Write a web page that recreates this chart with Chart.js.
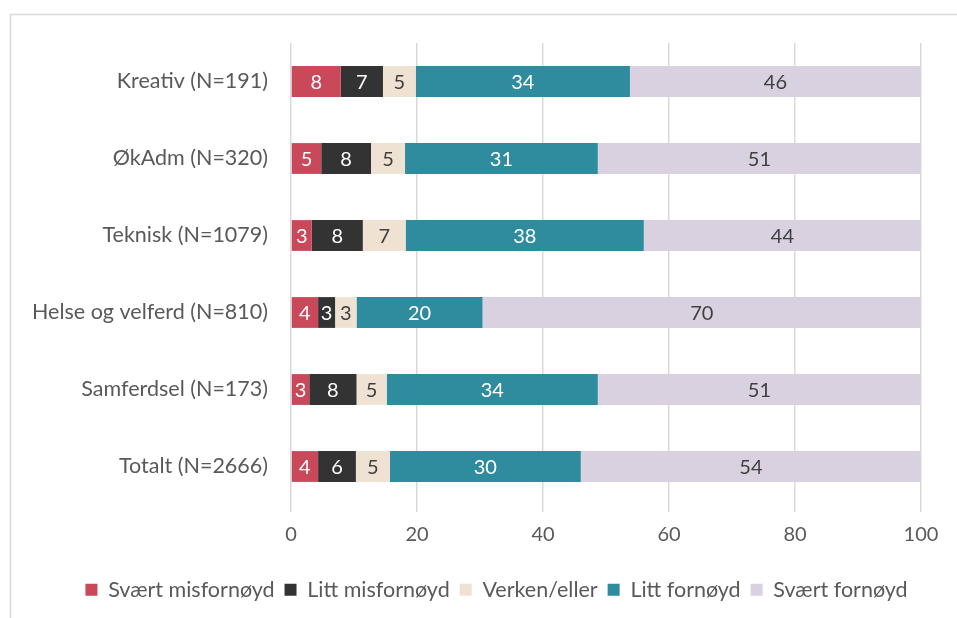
<!DOCTYPE html>
<html>
<head>
<meta charset="utf-8">
<script src="https://cdn.jsdelivr.net/npm/chart.js@4/dist/chart.umd.min.js"></script>
<style>
  html, body { margin: 0; padding: 0; background: #ffffff; }
  #wrap { width: 957px; height: 618px; position: relative; }
</style>
</head>
<body>
<div id="wrap"><canvas id="c" width="957" height="618"></canvas></div>
<script>
const categories = ["Kreativ (N=191)", "ØkAdm (N=320)", "Teknisk (N=1079)", "Helse og velferd (N=810)", "Samferdsel (N=173)", "Totalt (N=2666)"];
const seriesNames = ["Svært misfornøyd", "Litt misfornøyd", "Verken/eller", "Litt fornøyd", "Svært fornøyd"];
const sværtMisfornøyd = [7.9, 4.8, 3.3, 4.3, 2.9, 4.3];
const littMisfornøyd  = [6.7, 7.9, 8.1, 2.7, 7.5, 6.0];
const verkenEller     = [5.2, 5.4, 6.8, 3.4, 4.8, 5.4];
const littFornøyd     = [34.0, 30.6, 37.8, 20.0, 33.5, 30.3];
const sværtFornøyd    = [46.2, 51.3, 44.0, 69.6, 51.3, 54.0];
const xTicks = [0, 20, 40, 60, 80, 100];

const colors = ["#C9495B", "#333333", "#EFE2D2", "#2E8C9E", "#D9D1E0"];
const labelColors = ["#ffffff", "#ffffff", "#404040", "#ffffff", "#404040"];
const FONT = "Lato, 'Open Sans', sans-serif";

const seriesData = [sværtMisfornøyd, littMisfornøyd, verkenEller, littFornøyd, sværtFornøyd];

const frame = {
  id: 'frame',
  beforeDraw(chart) {
    const ctx = chart.ctx;
    ctx.save();
    ctx.strokeStyle = '#d9d9d9';
    ctx.lineWidth = 1.5;
    ctx.strokeRect(10.5, 14.5, 1000, 700);
    ctx.restore();
  }
};

const legendShift = {
  id: 'legendShift',
  afterLayout(chart) {
    const lg = chart.legend;
    if (lg) { lg.left = 36; lg.width = lg.right - lg.left; }
  }
};

const barLabels = {
  id: 'barLabels',
  afterDatasetsDraw(chart) {
    const ctx = chart.ctx;
    ctx.save();
    ctx.font = "20px " + FONT;
    ctx.textAlign = 'center';
    ctx.textBaseline = 'middle';
    chart.data.datasets.forEach((ds, di) => {
      const meta = chart.getDatasetMeta(di);
      meta.data.forEach((bar, i) => {
        const v = ds.data[i];
        const cx = (bar.x + bar.base) / 2;
        ctx.fillStyle = labelColors[di];
        ctx.fillText(String(Math.round(v)), cx, bar.y + 1);
      });
    });
    ctx.restore();
  }
};

new Chart(document.getElementById('c'), {
  type: 'bar',
  data: {
    labels: categories,
    datasets: seriesData.map((d, i) => ({
      label: seriesNames[i],
      data: d,
      backgroundColor: colors[i],
      borderWidth: 0,
      barPercentage: 0.8,
      categoryPercentage: 0.5
    }))
  },
  options: {
    indexAxis: 'y',
    responsive: false,
    animation: false,
    devicePixelRatio: 1,
    layout: { padding: { top: 43, right: 0, bottom: 7.5, left: 0 } },
    scales: {
      x: {
        stacked: true,
        min: 0, max: 100,
        afterBuildTicks(scale) { scale.ticks = xTicks.map(v => ({ value: v })); },
        afterFit(scale) { scale.height = 64; scale.paddingRight = 36; },
        grid: { color: '#d9d9d9', lineWidth: 1.5, tickLength: 7, drawTicks: true },
        border: { display: false },
        ticks: { color: '#595959', font: { family: FONT, size: 20 }, padding: 11 }
      },
      y: {
        stacked: true,
        afterFit(scale) { scale.width = 291; },
        grid: { display: false },
        border: { display: false },
        ticks: { color: '#595959', font: { family: FONT, size: 21.5 }, padding: 15 }
      }
    },
    plugins: {
      legend: {
        position: 'bottom',
        labels: {
          boxWidth: 12, boxHeight: 12,
          color: '#595959',
          font: { family: FONT, size: 21.5 },
          padding: 10
        }
      },
      tooltip: { enabled: false }
    }
  },
  plugins: [frame, legendShift, barLabels]
});
</script>
</body>
</html>
